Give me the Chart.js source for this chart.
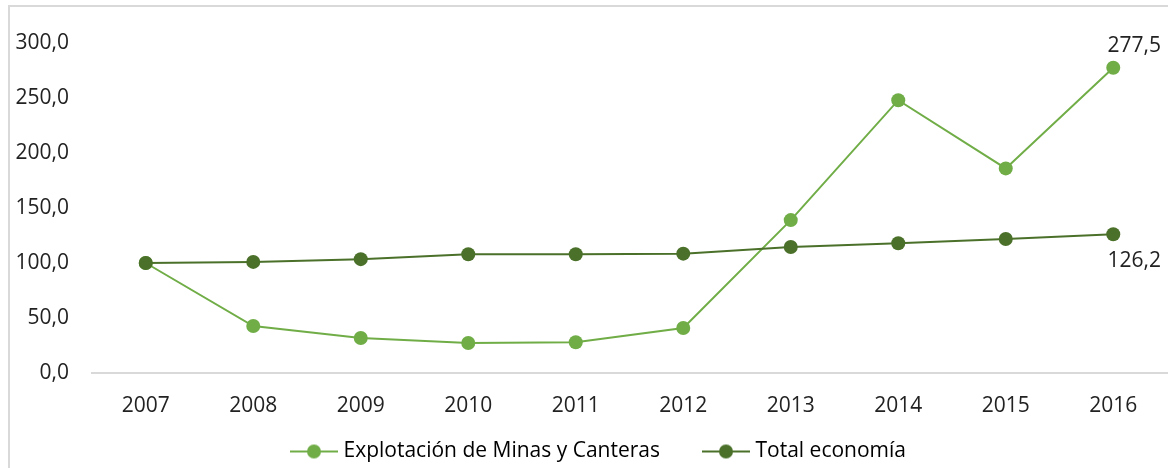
<!DOCTYPE html>
<html>
<head>
<meta charset="utf-8">
<script src="https://cdn.jsdelivr.net/npm/chart.js@4/dist/chart.umd.min.js"></script>
<style>
  html, body { margin: 0; padding: 0; background: #fff; }
  #wrap { position: relative; width: 1168px; height: 468px; overflow: hidden; }
  #frame { position: absolute; left: 8px; top: 5px; width: 2000px; height: 2000px;
           border-left: 2px solid #d9d9d9; border-top: 2px solid #d9d9d9; box-sizing: border-box; }
  canvas { position: absolute; left: 0; top: 0; }
</style>
</head>
<body>
<div id="wrap">
  <div id="frame"></div>
  <canvas id="c" width="1168" height="468"></canvas>
</div>
<script>
const categories = ['2007','2008','2009','2010','2011','2012','2013','2014','2015','2016'];
const minasLabel = 'Explotación de Minas y Canteras';
const totalLabel = 'Total economía';
const minasValues = [100.0, 42.7, 31.8, 27.3, 28.0, 40.9, 139.0, 248.0, 186.0, 277.5];
const totalValues = [100.0, 101.0, 103.5, 108.0, 108.0, 108.5, 114.5, 118.0, 121.8, 126.2];
const yTicks = [0, 50, 100, 150, 200, 250, 300];

const lightGreen = '#70AD47';
const darkGreen = '#4A7029';
const fontFamily = '"Open Sans", "Noto Sans", sans-serif';
const FS = 21;

function fmt(v) { return v.toFixed(1).replace('.', ','); }

// legend marker geometry
const BOX = 62;
const LEAD = 19;
const LINE_W = 48;
function legendMarker(color) {
  const half = Math.max(BOX / 2 - LEAD, LEAD + LINE_W - BOX / 2) + 2;
  const W = Math.ceil(half * 2);
  const c = document.createElement('canvas');
  c.width = W; c.height = 16;
  const x = c.getContext('2d');
  const start = W / 2 + (LEAD - BOX / 2);
  x.strokeStyle = color; x.lineWidth = 2;
  x.beginPath(); x.moveTo(start, 8); x.lineTo(start + LINE_W, 8); x.stroke();
  x.fillStyle = color;
  x.beginPath(); x.arc(start + LINE_W / 2, 8, 7, 0, Math.PI * 2); x.fill();
  return c;
}
const markers = [legendMarker(lightGreen), legendMarker(darkGreen)];

const lastLabels = {
  id: 'lastLabels',
  afterDatasetsDraw(chart) {
    const ctx = chart.ctx;
    ctx.save();
    ctx.font = FS + 'px ' + fontFamily;
    ctx.fillStyle = '#222';
    ctx.textAlign = 'center';
    ctx.textBaseline = 'middle';
    chart.data.datasets.forEach((ds, i) => {
      const meta = chart.getDatasetMeta(i);
      const n = ds.data.length - 1;
      const pt = meta.data[n];
      const dy = i === 0 ? -22 : 27;
      ctx.fillText(fmt(ds.data[n]), pt.x + 21, pt.y + dy);
    });
    ctx.restore();
  }
};

new Chart(document.getElementById('c'), {
  type: 'line',
  data: {
    labels: categories,
    datasets: [
      { label: minasLabel, data: minasValues, borderColor: lightGreen, backgroundColor: lightGreen,
        borderWidth: 2, pointRadius: 7, pointHoverRadius: 7, pointBackgroundColor: lightGreen,
        pointBorderWidth: 0, tension: 0, order: 2 },
      { label: totalLabel, data: totalValues, borderColor: darkGreen, backgroundColor: darkGreen,
        borderWidth: 2, pointRadius: 7, pointHoverRadius: 7, pointBackgroundColor: darkGreen,
        pointBorderWidth: 0, tension: 0, order: 1 }
    ]
  },
  options: {
    responsive: false,
    animation: false,
    layout: { autoPadding: false, padding: { left: 10, right: 1, top: 43, bottom: -4 } },
    scales: {
      x: {
        type: 'category',
        offset: true,
        grid: { display: false, drawTicks: false, tickLength: 0 },
        border: { display: true, color: '#d9d9d9', width: 2 },
        ticks: { color: '#222', font: { family: fontFamily, size: FS }, padding: 20, maxRotation: 0, autoSkip: false },
        afterFit(s) { s.height = 45; s.paddingLeft = 0; s.paddingRight = 0; }
      },
      y: {
        min: 0, max: 300,
        afterBuildTicks(s) { s.ticks = yTicks.map(v => ({ value: v })); },
        grid: { display: false, drawTicks: false, tickLength: 0 },
        border: { display: false },
        ticks: { color: '#222', font: { family: fontFamily, size: FS }, padding: 23,
                 callback: v => fmt(v) },
        afterFit(s) { s.width = 82; }
      }
    },
    plugins: {
      legend: {
        position: 'bottom',
        labels: {
          usePointStyle: true,
          pointStyleWidth: BOX,
          padding: 23,
          color: '#222',
          font: { family: fontFamily, size: FS },
          generateLabels(chart) {
            return chart.data.datasets.map((ds, i) => ({
              text: ds.label, pointStyle: markers[i], fillStyle: ds.borderColor,
              strokeStyle: ds.borderColor, lineWidth: 0, hidden: false, datasetIndex: i
            }));
          }
        }
      },
      tooltip: { enabled: false }
    }
  },
  plugins: [lastLabels]
});
</script>
</body>
</html>
